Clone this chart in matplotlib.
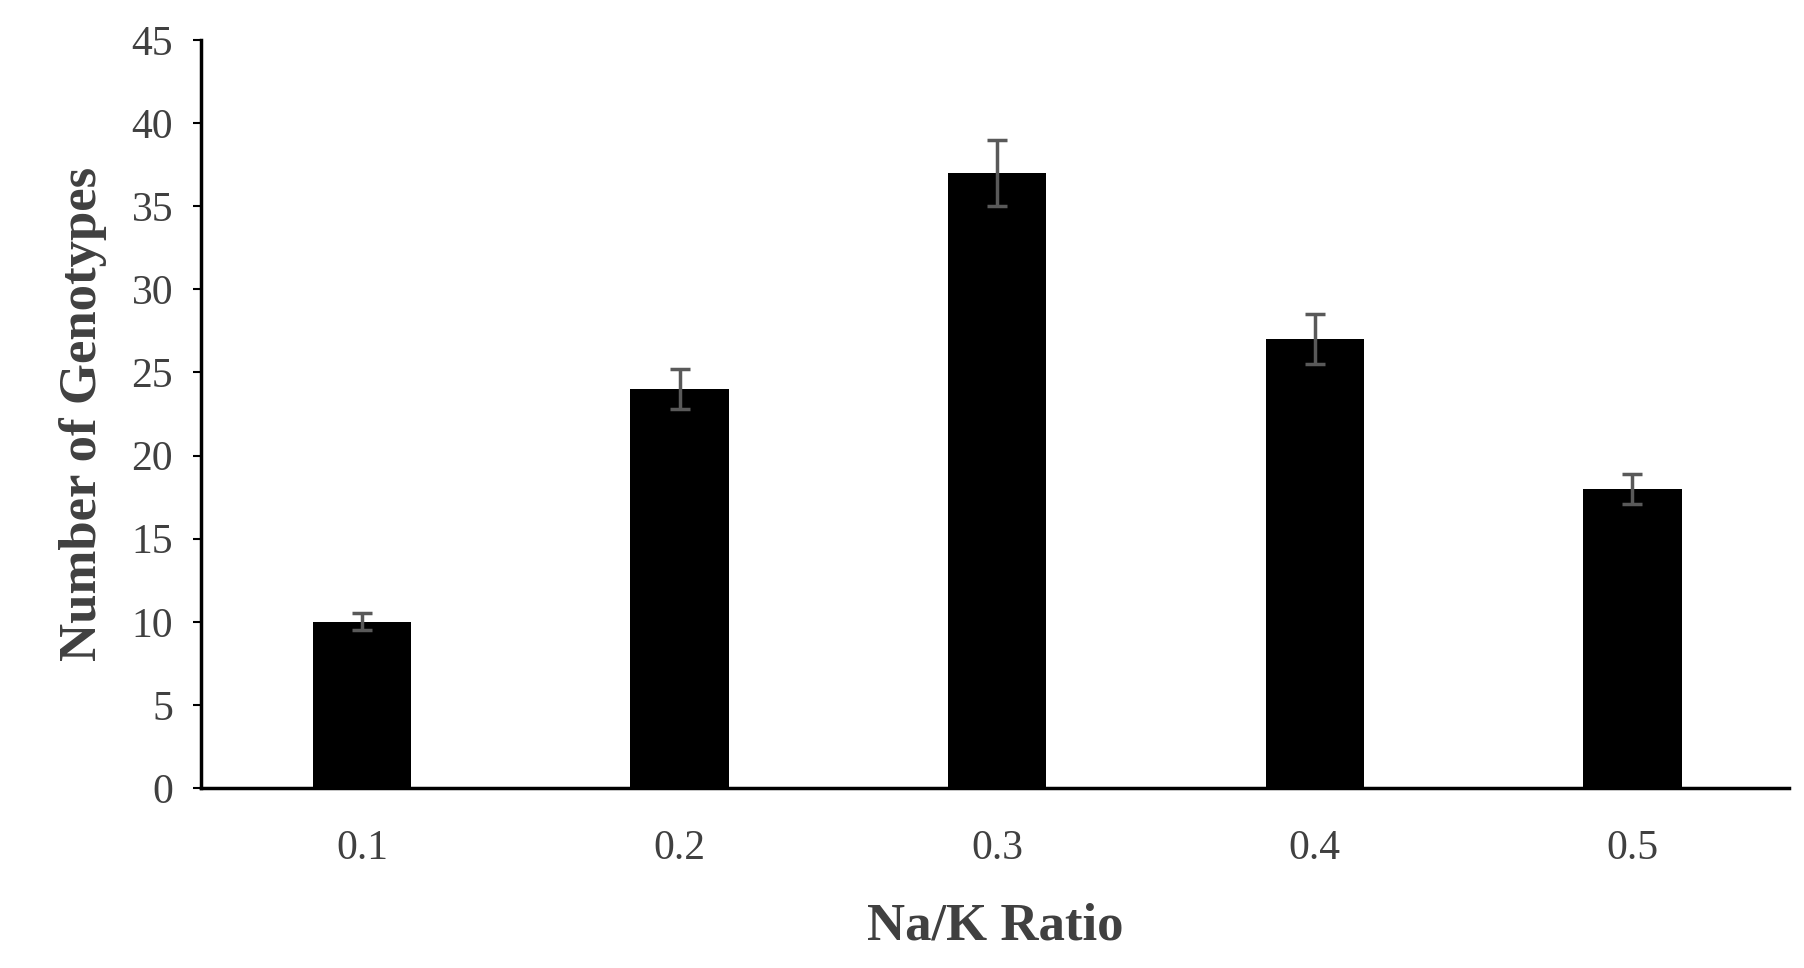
import matplotlib
matplotlib.use("Agg")
import matplotlib.pyplot as plt

categories = ["0.1", "0.2", "0.3", "0.4", "0.5"]
values = [10, 24, 37, 27, 18]
errors = [0.5, 1.2, 2.0, 1.5, 0.9]

plt.rcParams['font.family'] = ['Liberation Serif']
fig = plt.figure(figsize=(18.04, 9.68), dpi=100)
ax = fig.add_axes([201/1804, 1-788/968, (1789-201)/1804, (788-40)/968])
x = list(range(len(categories)))
ax.bar(x, values, width=0.31, color='black', yerr=errors,
       error_kw=dict(ecolor='#595959', elinewidth=2.5, capsize=7, capthick=2.5))
ax.set_xlim(-0.507, 4.493)
ax.set_ylim(0, 45)
ax.set_yticks(range(0, 46, 5))
ax.set_xticks(x)
ax.set_xticklabels(categories)
for s in ['top', 'right']:
    ax.spines[s].set_visible(False)
for s in ['left', 'bottom']:
    ax.spines[s].set_linewidth(2.5)
    ax.spines[s].set_color('black')
ax.tick_params(axis='y', length=6, width=1.5, labelsize=30, labelcolor='#404040', pad=14)
ax.tick_params(axis='x', length=0, labelsize=30, labelcolor='#404040', pad=30)
ax.set_xlabel("Na/K Ratio", fontsize=38, fontweight='bold', color='#404040', labelpad=25)
ax.set_ylabel("Number of Genotypes", fontsize=38, fontweight='bold', color='#404040', labelpad=18)
fig.savefig("out.png", dpi=100)
